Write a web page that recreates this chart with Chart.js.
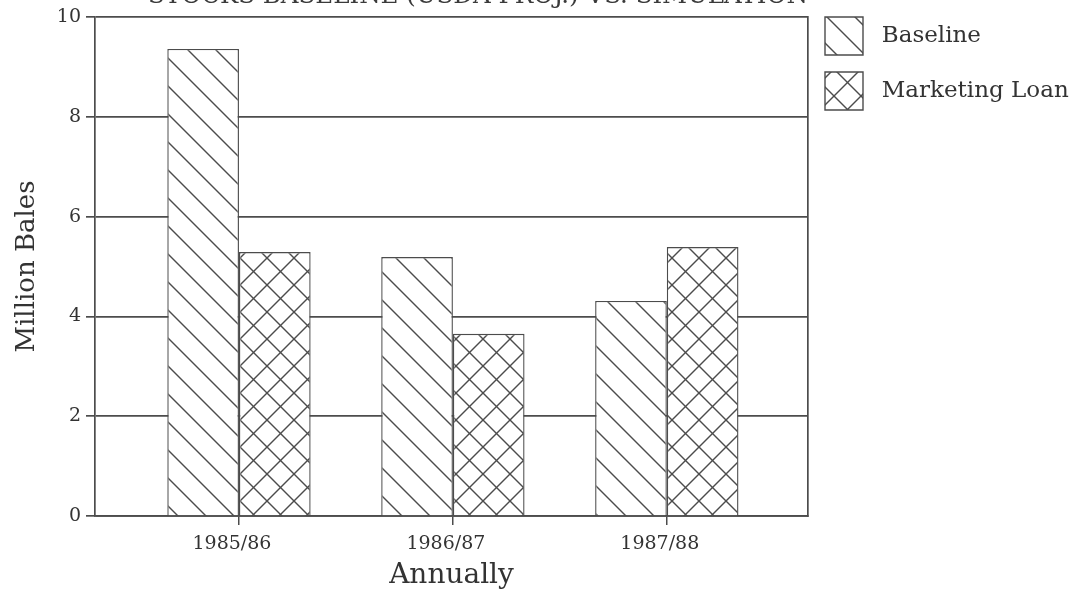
<!DOCTYPE html>
<html>
<head>
<meta charset="utf-8">
<script src="https://cdn.jsdelivr.net/npm/chart.js@4/dist/chart.umd.min.js"></script>
<style>
  html, body { margin: 0; padding: 0; background: #ffffff; }
  #wrap { width: 1078px; height: 593px; position: relative; }
</style>
</head>
<body>
<div id="wrap"><canvas id="c" width="1078" height="593"></canvas></div>
<script>
// ---- data ----
const categories = ['1985/86', '1986/87', '1987/88'];
const baselineValues = [9.36, 5.19, 4.31];
const marketingLoanValues = [5.29, 3.65, 5.39];
const seriesNames = ['Baseline', 'Marketing Loan'];
const yTicks = [0, 2, 4, 6, 8, 10];
const titleText = 'STOCKS BASELINE (USDA PROJ.) VS. SIMULATION';
const xTitle = 'Annually';
const yTitle = 'Million Bales';

// ---- hatch patterns ----
const INK = '#4c4c4c';
function makeHatch(period, backOffsets, fwdOffsets) {
  const c = document.createElement('canvas');
  c.width = period; c.height = period;
  const g = c.getContext('2d');
  g.fillStyle = '#ffffff';
  g.fillRect(0, 0, period, period);
  g.strokeStyle = INK;
  g.lineWidth = 1.4;
  backOffsets.forEach(o => { // y = x + o
    g.beginPath(); g.moveTo(-3, -3 + o); g.lineTo(period + 3, period + 3 + o); g.stroke();
  });
  fwdOffsets.forEach(o => { // y = -x + o
    g.beginPath(); g.moveTo(-3, o + 3); g.lineTo(period + 3, o - period - 3); g.stroke();
  });
  return g.createPattern(c, 'repeat');
}
const ctx = document.getElementById('c').getContext('2d');
const diagPattern = makeHatch(28, [2 - 28, 2, 2 + 28], []);
const crossPattern = makeHatch(27, [18 - 27, 18], [12, 39, -15]);

const fixLegendWidth = {
  id: 'fixLegendWidth',
  beforeLayout(chart) {
    const lg = chart.legend;
    if (lg && !lg._fixed) {
      const orig = lg.fit.bind(lg);
      lg.fit = function () { orig(); this.width = 270; };
      lg._fixed = true;
    }
  }
};

const serif = 'DejaVu Serif';

new Chart(ctx, {
  type: 'bar',
  data: {
    datasets: [
      {
        label: seriesNames[0],
        data: baselineValues.map((v, i) => ({ x: i, y: v })),
        backgroundColor: diagPattern,
        borderColor: INK,
        borderWidth: 1.4
      },
      {
        label: seriesNames[1],
        data: marketingLoanValues.map((v, i) => ({ x: i, y: v })),
        backgroundColor: crossPattern,
        borderColor: INK,
        borderWidth: 1.4
      }
    ]
  },
  plugins: [fixLegendWidth],
  options: {
    responsive: false,
    animation: false,
    events: [],
    categoryPercentage: 0.67,
    barPercentage: 1.0,
    layout: { padding: { left: 0, right: 0, top: 0, bottom: 0 } },
    plugins: {
      tooltip: { enabled: false },
      title: {
        display: true,
        text: titleText,
        fullSize: false,
        align: 'end',
        color: '#3a3a3a',
        font: { family: serif, size: 24.5, weight: 'normal', lineHeight: 0 },
        padding: { top: -3, bottom: 20 }
      },
      legend: {
        display: true,
        position: 'right',
        align: 'start',
        labels: {
          boxWidth: 38,
          boxHeight: 38,
          padding: 17,
          color: '#333333',
          font: { family: serif, size: 23 },
          generateLabels: (chart) =>
            Chart.defaults.plugins.legend.labels.generateLabels(chart)
              .map(l => Object.assign(l, { text: ' ' + l.text }))
        }
      }
    },
    scales: {
      x: {
        type: 'linear',
        min: -0.673,
        max: 2.66,
        offset: false,
        afterFit: (s) => { s.height = 77; },
        afterBuildTicks: (s) => { s.ticks = categories.map((_, i) => ({ value: i })); },
        grid: {
          display: true,
          offset: false,
          drawOnChartArea: false,
          drawTicks: true,
          tickLength: 9,
          color: INK,
          lineWidth: 1.5
        },
        border: { display: true, color: INK, width: 1.7 },
        ticks: {
          autoSkip: false,
          maxRotation: 0,
          padding: 8,
          labelOffset: -7,
          color: '#333333',
          font: { family: serif, size: 19 },
          callback: (v) => categories[v] !== undefined ? categories[v] : ''
        },
        title: {
          display: true,
          text: xTitle,
          color: '#333333',
          font: { family: serif, size: 28 },
          padding: { top: 0, bottom: 0 }
        }
      },
      y: {
        type: 'linear',
        min: 0,
        max: 10,
        afterFit: (s) => { s.width = 95; },
        afterBuildTicks: (s) => { s.ticks = yTicks.map(v => ({ value: v })); },
        grid: {
          display: true,
          drawOnChartArea: true,
          drawTicks: true,
          tickLength: 9,
          color: INK,
          lineWidth: 1.7
        },
        border: { display: true, color: INK, width: 1.7 },
        ticks: {
          padding: 5,
          color: '#333333',
          font: { family: serif, size: 19 }
        },
        title: {
          display: true,
          text: yTitle,
          color: '#333333',
          font: { family: serif, size: 26 },
          padding: { top: 12, bottom: 0 }
        }
      },
      y2: {
        type: 'linear',
        position: 'right',
        min: 0,
        max: 10,
        afterFit: (s) => { s.width = 0; },
        grid: { display: false },
        ticks: { display: false },
        border: { display: true, color: INK, width: 1.7 }
      }
    }
  }
});
</script>
</body>
</html>
